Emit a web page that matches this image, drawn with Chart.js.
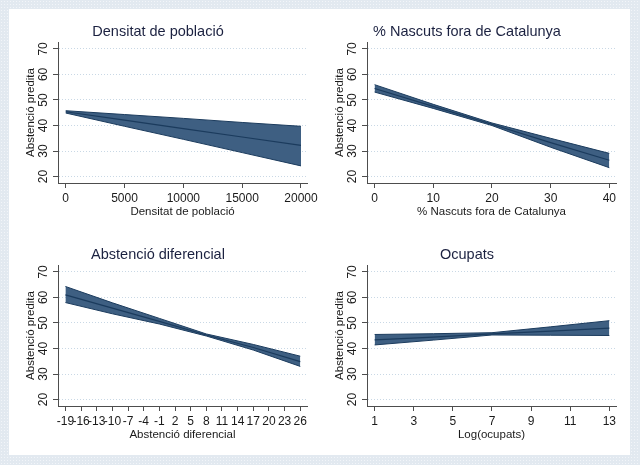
<!DOCTYPE html>
<html><head><meta charset="utf-8">
<script src="https://cdn.jsdelivr.net/npm/chart.js@4"></script>
<style>
html,body{margin:0;padding:0;}
body{width:640px;height:465px;position:relative;overflow:hidden;background:#e2e9f0;
 background-image: radial-gradient(#f2f5f9 0.8px, transparent 1px); background-size:3px 3px;}
#sheet{position:absolute;left:9px;top:9px;width:621px;height:446px;background:#fff;}
canvas{position:absolute;}
</style></head><body>
<div id="sheet"></div>
<canvas id="c1" width="311" height="223" style="left:9px;top:9px"></canvas>
<canvas id="c2" width="312" height="223" style="left:318px;top:9px"></canvas>
<canvas id="c3" width="311" height="223" style="left:9px;top:232px"></canvas>
<canvas id="c4" width="312" height="223" style="left:318px;top:232px"></canvas>
<script>
// ---- Data ----
const yTicks = [20, 30, 40, 50, 60, 70];
const yTitle = 'Abstenció predita';

// Panel 1: Densitat de població
const densX = [0, 5000, 10000, 15000, 20000];
const densUpper = [45.8, 44.3, 42.8, 41.2, 39.7];
const densLower = [44.9, 39.7, 34.6, 29.4, 24.2];
const densMid = [45.4, 42.1, 38.8, 35.5, 32.2];
const densTicks = [0, 5000, 10000, 15000, 20000];

// Panel 2: % Nascuts fora de Catalunya
const nascX = [0, 10, 20, 30, 40];
const nascUpper = [56.0, 48.3, 41.0, 35.0, 29.1];
const nascLower = [53.1, 46.7, 40.0, 31.5, 23.5];
const nascMid = [54.5, 47.5, 40.5, 33.3, 26.4];
const nascTicks = [0, 10, 20, 30, 40];

// Panel 3: Abstenció diferencial
const difX = [-19, -10, -1, 8, 17, 26];
const difUpper = [64.3, 57.9, 51.8, 45.7, 41.6, 37.0];
const difLower = [58.0, 53.6, 49.6, 44.9, 39.4, 33.0];
const difMid = [61.0, 55.8, 50.6, 45.3, 40.4, 34.9];
const difTicks = [-19, -16, -13, -10, -7, -4, -1, 2, 5, 8, 11, 14, 17, 20, 23, 26];

// Panel 4: Ocupats
const ocuX = [1, 4, 7, 10, 13];
const ocuUpper = [45.5, 45.8, 46.2, 48.5, 50.9];
const ocuLower = [41.4, 43.3, 45.3, 45.2, 45.1];
const ocuMid = [43.4, 44.5, 45.7, 46.8, 48.0];
const ocuTicks = [1, 3, 5, 7, 9, 11, 13];

// ---- Styles ----
const FONT = "'Liberation Sans', Arial, Helvetica, sans-serif";
const BAND = '#3e5f82';
const EDGE = '#1b3b5d';
const AXIS_C = '#4d4d4d';
const TEXT_C = '#1a1a1a';
const TITLE_C = '#1b2140';
const GRID_C = '#c9d8e5';

function makePanel(id, cfg) {
  const pts = ys => cfg.xs.map((x, i) => ({x: x, y: ys[i]}));
  return new Chart(document.getElementById(id), {
    type: 'line',
    data: { datasets: [
      {data: pts(cfg.upper), fill: '+1', backgroundColor: BAND, borderColor: EDGE, borderWidth: 1, pointRadius: 0, tension: 0, order: 1},
      {data: pts(cfg.lower), fill: false, borderColor: EDGE, borderWidth: 1, pointRadius: 0, tension: 0, order: 1},
      {data: pts(cfg.mid), fill: false, borderColor: EDGE, borderWidth: 1.2, pointRadius: 0, tension: 0, order: 0}
    ]},
    options: {
      responsive: false, animation: false, devicePixelRatio: 1,
      layout: {padding: {left: 0, right: cfg.padRight, top: 0, bottom: 0}},
      plugins: {
        legend: {display: false}, tooltip: {enabled: false},
        filler: {drawTime: 'beforeDatasetsDraw'},
        title: {display: true, text: cfg.title, color: TITLE_C,
          font: {family: FONT, size: 14.5, weight: 'normal'}, padding: {top: 14.5, bottom: 1.1}}
      },
      scales: {
        x: {
          type: 'linear', min: cfg.xMin, max: cfg.xMax,
          afterBuildTicks: s => { s.ticks = cfg.xTicks.map(v => ({value: v})); },
          afterFit: s => { s.height = 49; s.paddingLeft = 0; s.paddingRight = 0; },
          grid: {drawOnChartArea: false, drawTicks: true, tickLength: 5, tickColor: AXIS_C, tickWidth: 1},
          border: {display: true, color: AXIS_C, width: 1},
          ticks: {color: TEXT_C, font: {family: FONT, size: 12}, padding: 3, minRotation: 0, maxRotation: 0,
            autoSkip: false, callback: v => String(v)},
          title: {display: true, text: cfg.xTitle, color: TEXT_C, font: {family: FONT, size: 11.5},
            padding: {top: 0, bottom: 13}}
        },
        y: {
          type: 'linear', min: 17.5, max: 72.7,
          afterBuildTicks: s => { s.ticks = yTicks.map(v => ({value: v})); },
          afterFit: s => { s.width = 49; s.paddingTop = 0; s.paddingBottom = 0; },
          grid: {color: GRID_C, lineWidth: 1, drawTicks: true, tickLength: 5, tickColor: AXIS_C, tickWidth: 1,
            tickBorderDash: []},
          border: {display: true, color: AXIS_C, width: 1, dash: [1, 2]},
          ticks: {color: TEXT_C, font: {family: FONT, size: 12}, padding: 3, minRotation: 90, maxRotation: 90,
            crossAlign: 'center', callback: v => String(v)},
          title: {display: true, text: yTitle, color: TEXT_C, font: {family: FONT, size: 11.5},
            padding: {top: 15, bottom: 0}}
        }
      }
    }
  });
}

makePanel('c1', {xs: densX, upper: densUpper, lower: densLower, mid: densMid, xTicks: densTicks,
  xMin: -654, xMax: 20510, padRight: 13, title: 'Densitat de població', xTitle: 'Densitat de població'});
makePanel('c2', {xs: nascX, upper: nascUpper, lower: nascLower, mid: nascMid, xTicks: nascTicks,
  xMin: -1.29, xMax: 41.14, padRight: 14, title: '% Nascuts fora de Catalunya', xTitle: '% Nascuts fora de Catalunya'});
makePanel('c3', {xs: difX, upper: difUpper, lower: difLower, mid: difMid, xTicks: difTicks,
  xMin: -20.42, xMax: 27.29, padRight: 13, title: 'Abstenció diferencial', xTitle: 'Abstenció diferencial'});
makePanel('c4', {xs: ocuX, upper: ocuUpper, lower: ocuLower, mid: ocuMid, xTicks: ocuTicks,
  xMin: 0.61, xMax: 13.34, padRight: 14, title: 'Ocupats', xTitle: 'Log(ocupats)'});
</script>
</body></html>
